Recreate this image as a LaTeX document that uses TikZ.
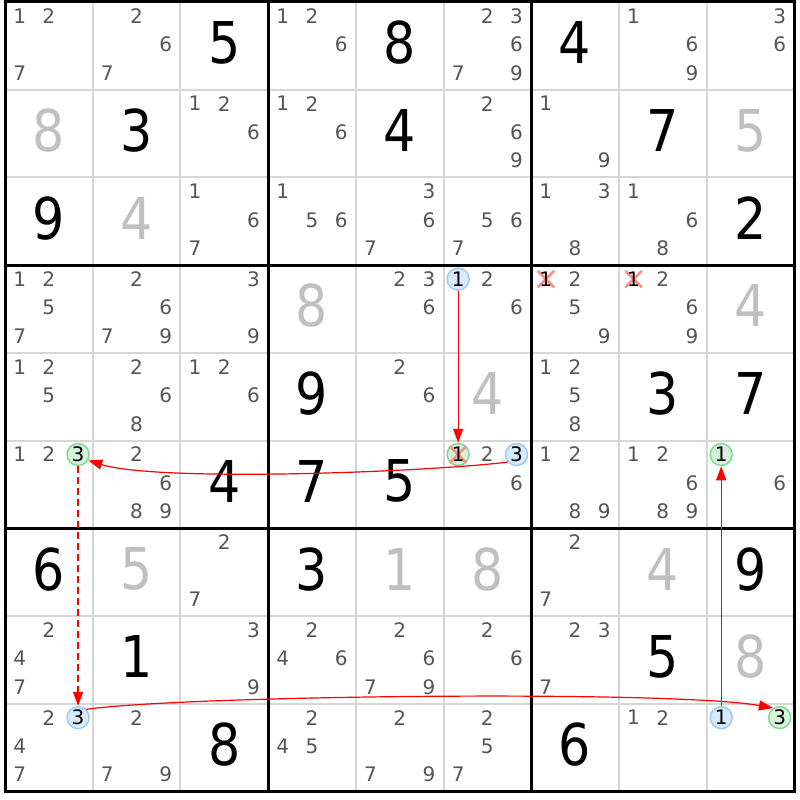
\documentclass[tikz,border=0pt]{standalone}
\usepackage{fontspec}
\setmainfont{DejaVu Sans}
\newfontfamily\bigdigits[FakeStretch=0.88]{DejaVu Sans}
\usetikzlibrary{arrows.meta,shapes.misc}
\definecolor{candgray}{HTML}{555555}
\definecolor{solvedgray}{HTML}{C0C0C0}
\definecolor{thingrid}{HTML}{D6D6D6}
\definecolor{bluefill}{HTML}{D8EBFD}
\definecolor{blueline}{HTML}{9CCBF5}
\definecolor{greenfill}{HTML}{D5F3DB}
\definecolor{greenline}{HTML}{82D993}
\definecolor{xpink}{HTML}{FF8C8C}
\tikzstyle{given}=[inner sep=0pt,font=\fontsize{57.6}{60}\bigdigits]
\tikzstyle{solved}=[given,text=solvedgray]
\tikzstyle{cand}=[inner sep=0pt,text=candgray,font=\fontsize{20}{21}\selectfont]
\tikzstyle{hidigit}=[cand,text=black]
\tikzstyle{hilite}=[circle,inner sep=0pt,minimum size=22pt,line width=1.5pt]
\tikzstyle{bluecand}=[hilite,draw=blueline,fill=bluefill]
\tikzstyle{greencand}=[hilite,draw=greenline,fill=greenfill]
\tikzstyle{crossed}=[cross out,draw=xpink,line width=2.6pt,minimum size=14pt,inner sep=0pt]
\tikzstyle{thinline}=[thingrid,line width=2pt]
\tikzstyle{boxline}=[black,line width=3pt,line cap=rect]
\tikzstyle{link}=[red,line width=1.2pt,-{Triangle[length=14pt,width=10pt]}]
\tikzstyle{weaklink}=[link,dash pattern=on 7pt off 4pt]

\begin{document}
\begin{tikzpicture}[x=1pt,y=-1pt]
  \def\gx{5}
  \def\gy{2}
  \def\cs{87.7}
  \def\sub{29.23}
  \fill[white] (0,0) rectangle (800,800);

  % grid
  \foreach \i in {1,2,4,5,7,8} {
    \draw[thinline] ({\gx+\i*\cs},\gy) -- ({\gx+\i*\cs},{\gy+9*\cs});
    \draw[thinline] (\gx,{\gy+\i*\cs}) -- ({\gx+9*\cs},{\gy+\i*\cs});
  }
  \foreach \i in {0,3,6,9} {
    \draw[boxline] ({\gx+\i*\cs},\gy) -- ({\gx+\i*\cs},{\gy+9*\cs});
    \draw[boxline] (\gx,{\gy+\i*\cs}) -- ({\gx+9*\cs},{\gy+\i*\cs});
  }

  % givens and solved cells
  \foreach \r/\c/\v in {1/3/5,1/5/8,1/7/4,2/2/3,2/5/4,2/8/7,3/1/9,3/9/2,
      5/4/9,5/8/3,5/9/7,6/3/4,6/4/7,6/5/5,7/1/6,7/4/3,7/9/9,8/2/1,8/8/5,
      9/3/8,9/7/6} {
    \node[given] (g\r\c) at ({\gx+(\c-0.5)*\cs},{\gy+(\r-0.5)*\cs-3}) {\v};
  }
  \foreach \r/\c/\v in {2/1/8,2/9/5,3/2/4,4/4/8,4/9/4,5/6/4,7/2/5,7/5/1,
      7/6/8,7/8/4,8/9/8} {
    \node[solved] (s\r\c) at ({\gx+(\c-0.5)*\cs},{\gy+(\r-0.5)*\cs-3}) {\v};
  }

  % pencil marks
  \foreach \r/\c/\ks in {1/1/{1,2,7},1/2/{2,6,7},1/4/{1,2,6},1/6/{2,3,6,7,9},
      1/8/{1,6,9},1/9/{3,6},2/3/{1,2,6},2/4/{1,2,6},2/6/{2,6,9},2/7/{1,9},
      3/3/{1,6,7},3/4/{1,5,6},3/5/{3,6,7},3/6/{5,6,7},3/7/{1,3,8},3/8/{1,6,8},
      4/1/{1,2,5,7},4/2/{2,6,7,9},4/3/{3,9},4/5/{2,3,6},4/6/{2,6},4/7/{2,5,9},
      4/8/{2,6,9},5/1/{1,2,5},5/2/{2,6,8},5/3/{1,2,6},5/5/{2,6},5/7/{1,2,5,8},
      6/1/{1,2},6/2/{2,6,8,9},6/6/{2,6},6/7/{1,2,8,9},6/8/{1,2,6,8,9},6/9/{6},
      7/3/{2,7},7/7/{2,7},8/1/{2,4,7},8/3/{3,9},8/4/{2,4,6},8/5/{2,6,7,9},
      8/6/{2,6},8/7/{2,3,7},9/1/{2,4,7},9/2/{2,7,9},9/4/{2,4,5},9/5/{2,7,9},
      9/6/{2,5,7},9/8/{1,2}} {
    \foreach \k in \ks {
      \node[cand] (c\r\c\k) at ({\gx+(\c-1)*\cs+(mod(\k-1,3)+0.5)*\sub},
        {\gy+(\r-1)*\cs+14+floor((\k-1)/3)*28.5}) {\k};
    }
  }

  % chain candidates
  \foreach \r/\c/\k/\sty in {4/6/1/bluecand,6/6/1/greencand,6/6/3/bluecand,
      6/1/3/greencand,9/1/3/bluecand,9/9/3/greencand,9/9/1/bluecand,
      6/9/1/greencand} {
    \node[\sty] (h\r\c\k) at ({\gx+(\c-1)*\cs+(mod(\k-1,3)+0.5)*\sub},
      {\gy+(\r-1)*\cs+14+floor((\k-1)/3)*28.5}) {};
  }
  \foreach \r/\c in {4/7,4/8,6/6} {
    \node[crossed] (x\r\c) at ({\gx+(\c-1)*\cs+0.5*\sub},{\gy+(\r-1)*\cs+14}) {};
  }
  \foreach \r/\c/\k in {4/6/1,6/6/1,6/6/3,6/1/3,9/1/3,9/9/3,9/9/1,6/9/1,
      4/7/1,4/8/1} {
    \node[hidigit] (d\r\c\k) at ({\gx+(\c-1)*\cs+(mod(\k-1,3)+0.5)*\sub},
      {\gy+(\r-1)*\cs+14+floor((\k-1)/3)*28.5}) {\k};
  }

  % links
  \draw[link] (h461) -- (h661);
  \draw[link] (h663.220) .. controls +(-80,10) and +(70,22) .. (h613.-30);
  \draw[weaklink] (h613) -- (h913);
  \draw[link] (h913.45) .. controls +(100,-14) and +(-100,-18) .. (h993.125);
  \draw[link] (h991) -- (h691);
\end{tikzpicture}
\end{document}
